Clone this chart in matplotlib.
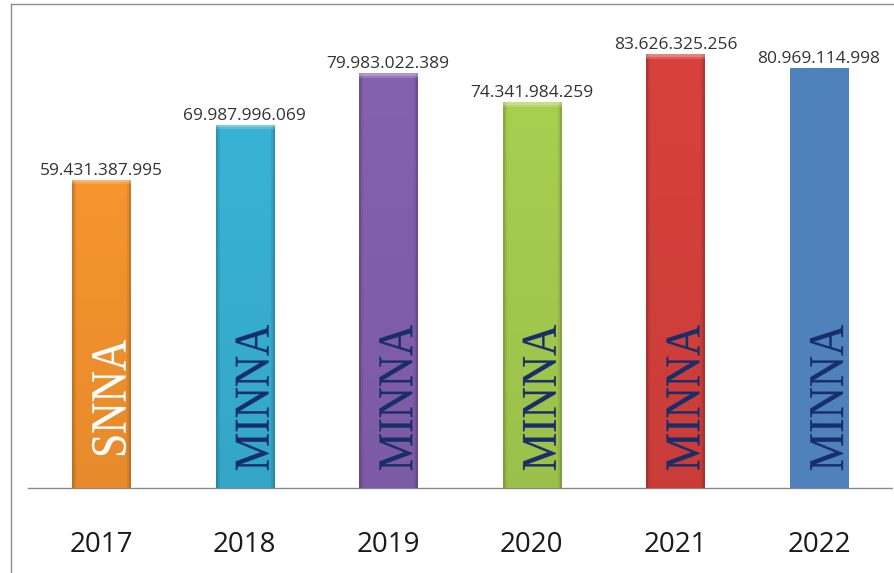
import numpy as np
import matplotlib
matplotlib.use('Agg')
import matplotlib.pyplot as plt
import matplotlib.transforms as mtransforms
from matplotlib.colors import to_rgb
from matplotlib.textpath import TextPath
from matplotlib.patches import PathPatch
from matplotlib.font_manager import FontProperties

years = ['2017', '2018', '2019', '2020', '2021', '2022']
values = [59431387995, 69987996069, 79983022389, 74341984259,
          83626325256, 80969114998]
value_labels = ['59.431.387.995', '69.987.996.069', '79.983.022.389',
                '74.341.984.259', '83.626.325.256', '80.969.114.998']
bar_texts = ['SNNA', 'MINNA', 'MINNA', 'MINNA', 'MINNA', 'MINNA']
bar_colors = ['#F7952F', '#38B3D6', '#8561B0', '#A7CF50', '#D8413D', '#4F81BD']
text_colors = ['white', '#182E6A', '#182E6A', '#182E6A', '#182E6A', '#182E6A']
bevel = [True, True, True, True, True, False]

W, H, DPI = 894, 573, 100
px_per_bn = 5.188          # pixels per billion on the value axis

fig = plt.figure(figsize=(W / DPI, H / DPI), dpi=DPI)
ax = fig.add_axes([11 / W, 0, 882 / W, (H - 4) / H])

x = np.arange(len(years))
vals = np.array(values) / 1e9
bars = ax.bar(x, vals, width=0.404, color=bar_colors, zorder=2)


def shaded(color, w_px, h_px, bev):
    # simple bevel look: darker sides, lighter top edge, darker towards bottom
    base = np.array(to_rgb(color))
    nx, ny = max(int(w_px), 2), max(int(h_px), 2)
    img = np.ones((ny, nx, 3)) * base
    if not bev:
        return img
    v = np.arange(ny)  # 0 = top row
    side = np.ones(nx)
    side[:2] = 0.82
    side[-2:] = 0.82
    side[2:4] = 0.93
    side[-4:-2] = 0.93
    vert = 1 - 0.07 * (v / ny)
    img = img * side[None, :, None] * vert[:, None, None]
    top = np.zeros(ny)
    top[:3] = 0.35
    top[3:5] = 0.15
    img = img * (1 - top[:, None, None]) + top[:, None, None]
    return np.clip(img, 0, 1)


def vertical_word(word, xd, yd, length_px, cap_px, dx_px, color):
    # word drawn bottom-to-top, stretched to the size it has in the picture
    tp = TextPath((0, 0), word, size=1,
                  prop=FontProperties(family='Liberation Serif'))
    ext = tp.get_extents()
    tr = (mtransforms.Affine2D()
          .translate(-(ext.x0 + ext.x1) / 2, -(ext.y0 + ext.y1) / 2)
          .scale(length_px / ext.width, cap_px / ext.height)
          .rotate_deg(90)
          .translate(dx_px, 0)
          + mtransforms.ScaledTranslation(xd, yd, ax.transData))
    ax.add_patch(PathPatch(tp, transform=tr, facecolor=color,
                           edgecolor=color, lw=0.2, zorder=4))


for i, b in enumerate(bars):
    x0, w, h = b.get_x(), b.get_width(), b.get_height()
    img = shaded(bar_colors[i], 58, h * px_per_bn, bevel[i])
    im = ax.imshow(img, extent=[x0, x0 + w, 0, h], aspect='auto',
                   zorder=3, interpolation='bilinear')
    im.set_clip_path(b)

    ax.annotate(value_labels[i], (x[i], h), xytext=(0, 5 * 0.72),
                textcoords='offset points', ha='center', va='baseline',
                fontsize=12.5, family='Open Sans', color='#333333', zorder=4)
    if bar_texts[i] == 'SNNA':
        vertical_word(bar_texts[i], x[i], 17.44, 115, 34, 8, text_colors[i])
    else:
        vertical_word(bar_texts[i], x[i], 17.44, 145, 33, 7.5, text_colors[i])
    ax.annotate(years[i], (x[i], 0), xytext=(0, -64 * 0.72),
                textcoords='offset points', ha='center', va='baseline',
                fontsize=20, family='Open Sans', color='#1a1a1a')

ax.set_xlim((11 - 101) / 143.6, (893 - 101) / 143.6)
ax.set_ylim(-(H - 488) / px_per_bn, (488 - 4) / px_per_bn)
ax.axhline(0, xmin=17 / 882, xmax=1, color='#8c8c8c', lw=1, zorder=1)

for s in ['right', 'bottom']:
    ax.spines[s].set_visible(False)
for s in ['top', 'left']:
    ax.spines[s].set_color('#8c8c8c')
    ax.spines[s].set_linewidth(1)
ax.set_xticks([])
ax.set_yticks([])

fig.savefig('out.png', dpi=DPI)
